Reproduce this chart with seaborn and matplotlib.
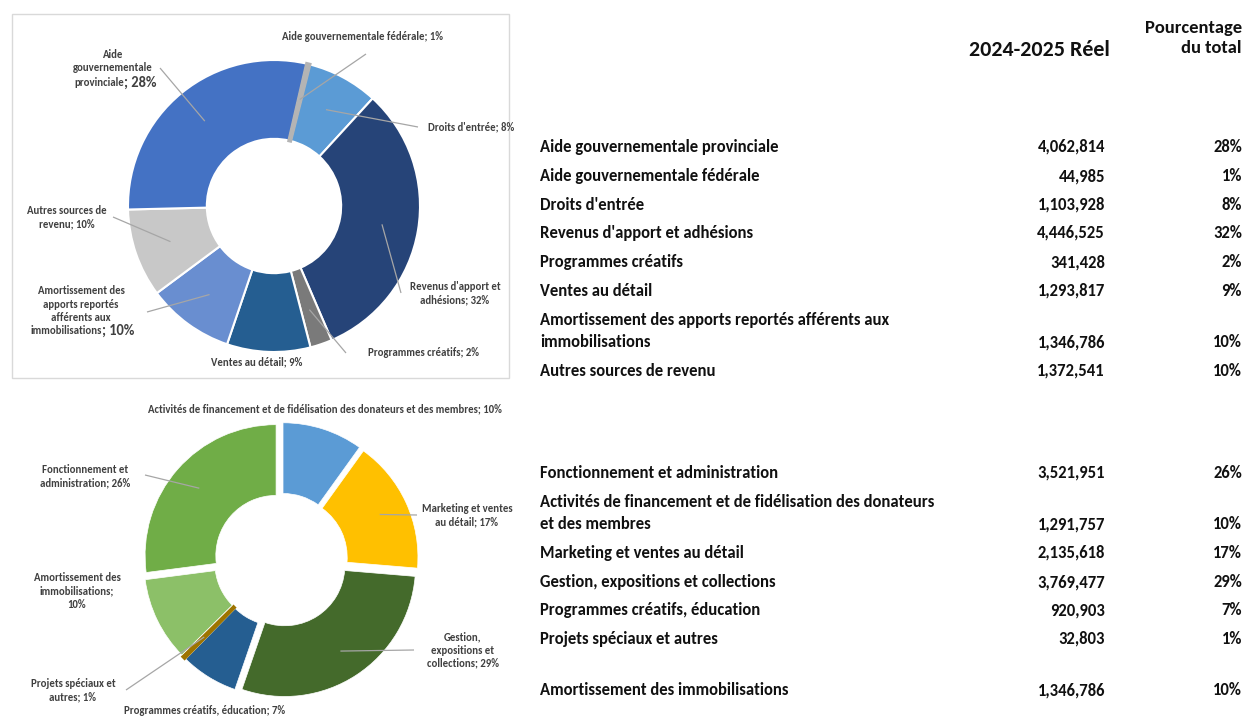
import matplotlib
matplotlib.use("Agg")
import matplotlib.pyplot as plt
from matplotlib.patches import Rectangle
import numpy as np
import seaborn as sns

# revenue donut (clockwise order as drawn)
rev_names = ["Aide gouvernementale fédérale", "Droits d'entrée", "Revenus d'apport et adhésions",
             "Programmes créatifs", "Ventes au détail",
             "Amortissement des apports reportés afférents aux immobilisations",
             "Autres sources de revenu", "Aide gouvernementale provinciale"]
rev_values = [44985, 1103928, 4446525, 341428, 1293817, 1346786, 1372541, 4062814]
rev_colors = ["#b4b4b4", "#5b9bd5", "#264478", "#7a7a7a", "#255e91", "#698ed0", "#c8c8c8", "#4472c4"]

# expense donut
exp_names = ["Activités de financement et de fidélisation des donateurs et des membres",
             "Marketing et ventes au détail", "Gestion, expositions et collections",
             "Programmes créatifs, éducation", "Projets spéciaux et autres",
             "Amortissement des immobilisations", "Fonctionnement et administration"]
exp_values = [1291757, 2135618, 3769477, 920903, 32803, 1346786, 3521951]
exp_colors = ["#5b9bd5", "#ffc000", "#446a2b", "#255e91", "#9e7400", "#8cc068", "#70ad47"]

# table on the right
rev_table_labels = ["Aide gouvernementale provinciale", "Aide gouvernementale fédérale", "Droits d'entrée",
                    "Revenus d'apport et adhésions", "Programmes créatifs", "Ventes au détail",
                    "Amortissement des apports reportés afférents aux\nimmobilisations",
                    "Autres sources de revenu"]
rev_table_values = [4062814, 44985, 1103928, 4446525, 341428, 1293817, 1346786, 1372541]
rev_table_pct = ["28%", "1%", "8%", "32%", "2%", "9%", "10%", "10%"]

exp_table_labels = ["Fonctionnement et administration",
                    "Activités de financement et de fidélisation des donateurs\net des membres",
                    "Marketing et ventes au détail", "Gestion, expositions et collections",
                    "Programmes créatifs, éducation", "Projets spéciaux et autres",
                    "Amortissement des immobilisations"]
exp_table_values = [3521951, 1291757, 2135618, 3769477, 920903, 32803, 1346786]
exp_table_pct = ["26%", "10%", "17%", "29%", "7%", "1%", "10%"]

sns.set_theme(style="white")
plt.rcParams['font.family'] = ['Carlito', 'DejaVu Sans']
plt.rcParams['font.weight'] = 'bold'

W, H = 1243, 717
fig = plt.figure(figsize=(W / 100, H / 100), dpi=100)
fig.patch.set_facecolor("white")
ax = fig.add_axes([0, 0, 1, 1])

def Y(y):
    return H - y

lbl_col = "#404040"
lbl_fs = 7.75

# ---- revenue donut
c1 = (274, Y(206))
r1 = 146
w1, _ = ax.pie(rev_values, colors=rev_colors, startangle=77, counterclock=False,
               center=c1, radius=r1,
               wedgeprops=dict(width=r1 * 0.54, edgecolor="white", linewidth=1.5))
# tiny federal slice, thickened a bit like the original
w1[0].set_edgecolor(rev_colors[0])
w1[0].set_linewidth(2.5)
w1[0].set_zorder(3)

def mid_point(w, rm):
    a = np.deg2rad((w.theta1 + w.theta2) / 2)
    cx, cy = w.center
    return cx + rm * np.cos(a), cy + rm * np.sin(a)

# (wedge index, label anchor for the leader line)
rev_leaders = [(7, (160, 68)), (0, (366, 54)), (1, (418, 127)), (2, (401, 293)),
               (3, (346, 353)), (5, (147, 312)), (6, (113, 217))]
for i, (lx, ly) in rev_leaders:
    px, py = mid_point(w1[i], r1 * 0.75)
    ax.plot([lx, px], [Y(ly), py], color="#a6a6a6", lw=0.9, solid_capstyle="butt", zorder=4)

def txt(x, y, s, ha="center", fs=lbl_fs, **kw):
    ax.text(x, Y(y), s, ha=ha, va="center", fontsize=fs, color=lbl_col,
            fontweight="bold", linespacing=1.25, **kw)

txt(113, 61, "Aide\ngouvernementale")
txt(124, 83, "provinciale", ha="right")
txt(124, 83, "; 28%", ha="left", fs=10.5)
txt(363, 36, "Aide gouvernementale fédérale; 1%")
txt(514, 127, "Droits d'entrée; 8%", ha="right")
txt(455, 293, "Revenus d'apport et\nadhésions; 32%")
txt(368, 352, "Programmes créatifs; 2%", ha="left")
txt(257, 362, "Ventes au détail; 9%")
txt(81, 304, "Amortissement des\napports reportés\nafférents aux")
txt(102, 331, "immobilisations", ha="right")
txt(102, 331, "; 10%", ha="left", fs=10.5)
txt(67, 217, "Autres sources de\nrevenu; 10%")

ax.add_patch(Rectangle((12, Y(378)), 497, 364, fill=False, edgecolor="#d9d9d9", lw=1))

# ---- expense donut (explode is in data units here, i.e. pixels)
c2 = (281, Y(560))
r2 = 131
w2, _ = ax.pie(exp_values, colors=exp_colors, startangle=90, counterclock=False,
               center=c2, radius=r2, explode=[r2 * 0.05] * len(exp_values),
               wedgeprops=dict(width=r2 * 0.54, edgecolor="white", linewidth=0.5))
w2[4].set_edgecolor(exp_colors[4])
w2[4].set_linewidth(2.5)

exp_leaders = [(6, (145, 475)), (1, (417, 515)), (2, (414, 650)), (4, (126, 690))]
for i, (lx, ly) in exp_leaders:
    px, py = mid_point(w2[i], r2 * 0.78)
    ax.plot([lx, px], [Y(ly), py], color="#a6a6a6", lw=0.9, solid_capstyle="butt", zorder=4)

txt(325, 409, "Activités de financement et de fidélisation des donateurs et des membres; 10%")
txt(85, 476, "Fonctionnement et\nadministration; 26%")
txt(467, 515, "Marketing et ventes\nau détail; 17%")
txt(77, 591, "Amortissement des\nimmobilisations;\n10%")
txt(463, 650, "Gestion,\nexpositions et\ncollections; 29%")
txt(73, 690, "Projets spéciaux et\nautres; 1%")
txt(205, 711, "Programmes créatifs, éducation; 7%")

# ---- table
tcol = "#111111"
tfs = 12
ax.text(1110, Y(50), "2024-2025 Réel", ha="right", va="center", fontsize=15.8, color=tcol, fontweight="bold")
ax.text(1242, Y(38), "Pourcentage\ndu total", ha="right", va="center", fontsize=13.3, color=tcol,
        fontweight="bold", linespacing=1.35)

def table_block(labels, values, pcts, ys):
    for lab, v, p, y in zip(labels, values, pcts, ys):
        lines = lab.split("\n")
        for k, line in enumerate(reversed(lines)):
            ax.text(540, Y(y - 22 * k), line, ha="left", va="center", fontsize=tfs, color=tcol,
                    fontweight="bold")
        ax.text(1105, Y(y), f"{v:,}", ha="right", va="center", fontsize=tfs, color=tcol, fontweight="bold")
        ax.text(1242, Y(y), p, ha="right", va="center", fontsize=tfs, color=tcol, fontweight="bold")

table_block(rev_table_labels, rev_table_values, rev_table_pct, [147, 176, 205, 233, 262, 291, 342, 371])
table_block(exp_table_labels, exp_table_values, exp_table_pct, [473, 524, 553, 582, 610, 639, 690])

ax.set_xlim(0, W)
ax.set_ylim(0, H)
ax.set_aspect("auto")
ax.axis("off")

fig.savefig("out.png", dpi=100)
